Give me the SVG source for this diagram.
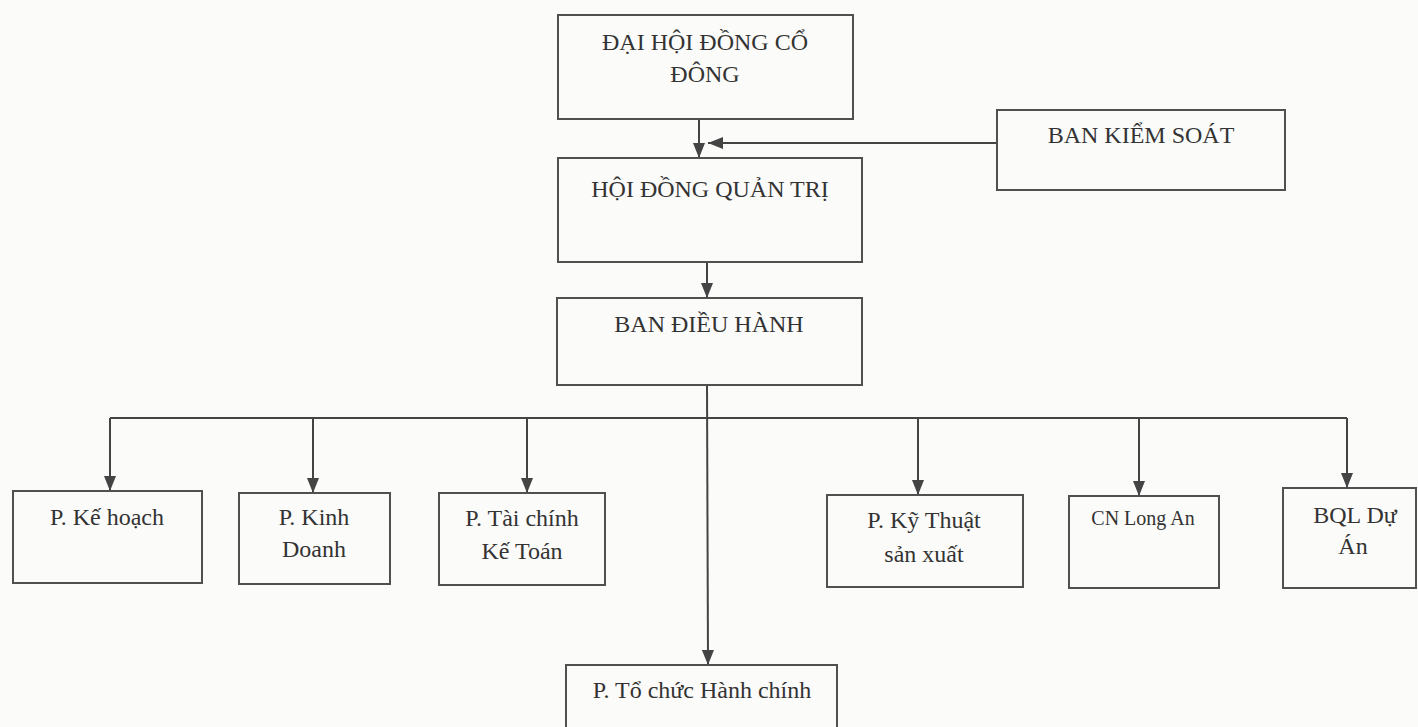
<svg xmlns="http://www.w3.org/2000/svg" width="1418" height="727" viewBox="0 0 1418 727">
<defs>
<style>
.box{fill:none;stroke:#505050;stroke-width:2}
.t{font-family:"Liberation Serif","Times New Roman",serif;font-size:24px;fill:#333;text-anchor:middle}
.s{font-size:20px}
.c{fill:none;stroke:#444;stroke-width:2}
</style>
<marker id="ah" markerUnits="userSpaceOnUse" markerWidth="16" markerHeight="12" refX="15" refY="6" orient="auto">
<path d="M0,0 L15,6 L0,12 Z" fill="#444"/>
</marker>
</defs>
<rect x="0" y="0" width="1418" height="727" fill="#fbfbfa"/>
<g id="connectors">
<line class="c" x1="699" y1="119" x2="699" y2="158" marker-end="url(#ah)"/>
<line class="c" x1="997" y1="143" x2="708" y2="143" marker-end="url(#ah)"/>
<line class="c" x1="707" y1="262" x2="707" y2="298" marker-end="url(#ah)"/>
<line class="c" x1="707" y1="385" x2="708" y2="665" marker-end="url(#ah)"/>
<line class="c" x1="110" y1="418" x2="1347" y2="418"/>
<line class="c" x1="110" y1="418" x2="110" y2="491" marker-end="url(#ah)"/>
<line class="c" x1="313" y1="418" x2="313" y2="493" marker-end="url(#ah)"/>
<line class="c" x1="527" y1="418" x2="527" y2="493" marker-end="url(#ah)"/>
<line class="c" x1="918" y1="418" x2="918" y2="495" marker-end="url(#ah)"/>
<line class="c" x1="1139" y1="418" x2="1139" y2="496" marker-end="url(#ah)"/>
<line class="c" x1="1347" y1="418" x2="1347" y2="488" marker-end="url(#ah)"/>
</g>
<g id="dhdcd">
<rect class="box" x="558" y="15" width="295" height="104"/>
<text class="t" x="705" y="50">ĐẠI HỘI ĐỒNG CỔ</text>
<text class="t" x="705" y="82">ĐÔNG</text>
</g>
<g id="bks">
<rect class="box" x="997" y="110" width="288" height="80"/>
<text class="t" x="1141" y="143">BAN KIỂM SOÁT</text>
</g>
<g id="hdqt">
<rect class="box" x="558" y="158" width="304" height="104"/>
<text class="t" x="710" y="197">HỘI ĐỒNG QUẢN TRỊ</text>
</g>
<g id="bdh">
<rect class="box" x="557" y="298" width="305" height="87"/>
<text class="t" x="709" y="332">BAN ĐIỀU HÀNH</text>
</g>
<g id="kehoach">
<rect class="box" x="13" y="491" width="189" height="92"/>
<text class="t" x="107" y="525">P. Kế hoạch</text>
</g>
<g id="kinhdoanh">
<rect class="box" x="239" y="493" width="151" height="91"/>
<text class="t" x="314" y="525">P. Kinh</text>
<text class="t" x="314" y="557">Doanh</text>
</g>
<g id="taichinh">
<rect class="box" x="439" y="493" width="166" height="92"/>
<text class="t" x="522" y="526">P. Tài chính</text>
<text class="t" x="522" y="559">Kế Toán</text>
</g>
<g id="kythuat">
<rect class="box" x="827" y="495" width="196" height="92"/>
<text class="t" x="924" y="528">P. Kỹ Thuật</text>
<text class="t" x="924" y="562">sản xuất</text>
</g>
<g id="cnlongan">
<rect class="box" x="1069" y="496" width="150" height="92"/>
<text class="t s" x="1143" y="525">CN Long An</text>
</g>
<g id="bql">
<rect class="box" x="1283" y="488" width="133" height="100"/>
<text class="t" x="1355" y="523">BQL Dự</text>
<text class="t" x="1353" y="554">Án</text>
</g>
<g id="tochuc">
<rect class="box" x="566" y="665" width="271" height="75"/>
<text class="t" x="702" y="698">P. Tổ chức Hành chính</text>
</g>
</svg>
